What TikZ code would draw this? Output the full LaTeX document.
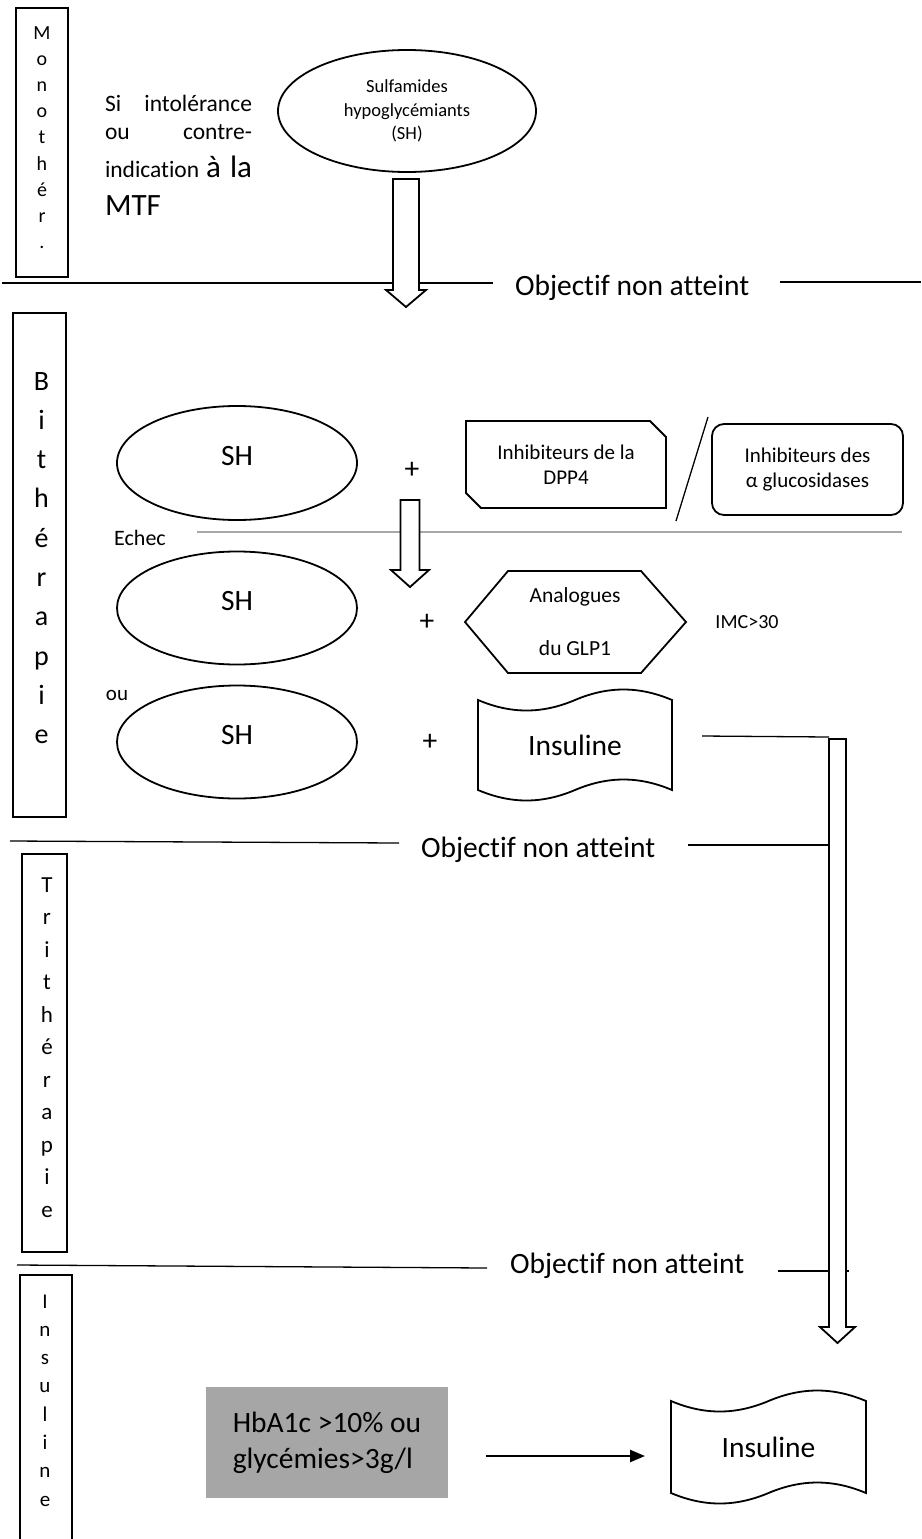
\documentclass[tikz,border=0pt]{standalone}
\usepackage{fontspec}
\setmainfont{Carlito}[Ligatures=NoCommon]
\usetikzlibrary{shapes.geometric,arrows.meta}
\definecolor{boxgray}{HTML}{A6A6A6}
\definecolor{linegray}{HTML}{A8A8A8}
\tikzset{
  every node/.style={inner sep=0pt, outer sep=0pt},
  lblbox/.style={draw, line width=2.2pt},
  shapeline/.style={draw, line width=1.8pt},
  sepline/.style={line width=1.3pt},
  blk/.style={draw, line width=1.8pt, fill=white, line join=miter},
  bigtxt/.style={font=\fontsize{29.5}{35}\selectfont},
  smalltxt/.style={font=\fontsize{21}{25}\selectfont},
}
% block arrow: cx, ytop, yhead, ytip, shaft half width, head half width
\newcommand\blockarr[6]{%
  \draw[blk] ({#1-#5},#2) -- ({#1+#5},#2) -- ({#1+#5},#3) -- ({#1+#6},#3) -- (#1,#4) -- ({#1-#6},#3) -- ({#1-#5},#3) -- cycle;}
% punched tape: x0, ytop, width, ybottom
\newcommand\tapeshape[4]{%
  \draw[shapeline] (#1,#2) .. controls ({#1+0.17*#3},{#2+14}) and ({#1+0.33*#3},{#2+14}) .. ({#1+0.5*#3},#2)
    .. controls ({#1+0.67*#3},{#2-14}) and ({#1+0.83*#3},{#2-14}) .. ({#1+#3},#2)
    -- ({#1+#3},#4)
    .. controls ({#1+0.83*#3},{#4-14}) and ({#1+0.67*#3},{#4-14}) .. ({#1+0.5*#3},#4)
    .. controls ({#1+0.33*#3},{#4+14}) and ({#1+0.17*#3},{#4+14}) .. (#1,#4) -- cycle;}
\begin{document}
\begin{tikzpicture}[x=1pt,y=-1pt]
\useasboundingbox (0,0) rectangle (921,1539);

% ---------- section label boxes ----------
\node[lblbox, minimum width=52pt, minimum height=269pt] (monobox) at (42,142.5) {};
\foreach \c [count=\i] in {M,o,n,o,t,h,é,r,.}
  \node[anchor=base, font=\fontsize{20}{24}\selectfont] (mono\i) at (42,{39+26.2*(\i-1)}) {\c};

\node[lblbox, minimum width=53pt, minimum height=504pt] (bibox) at (39.5,565) {};
\foreach \c [count=\i] in {B,i,t,h,é,r,a,p,i,e}
  \node[anchor=base, font=\fontsize{28}{32}\selectfont] (bi\i) at (41.5,{390+39.3*(\i-1)}) {\c};

\node[lblbox, minimum width=45pt, minimum height=398pt] (tribox) at (44.5,1053) {};
\foreach \c [count=\i] in {T,r,i,t,h,é,r,a,p,i,e}
  \node[anchor=base, font=\fontsize{23}{27}\selectfont] (tri\i) at (47,{892+32.5*(\i-1)}) {\c};

\node[lblbox, minimum width=52pt, minimum height=300pt] (insbox) at (46,1425) {};
\foreach \c [count=\i] in {I,n,s,u,l,i,n,e}
  \node[anchor=base, font=\fontsize{21}{25}\selectfont] (insl\i) at (45,{1308+28.3*(\i-1)}) {\c};

% ---------- separator lines ----------
\coordinate (l1a) at (2,283);   \coordinate (l1b) at (493,283);
\coordinate (l1c) at (780,282); \coordinate (l1d) at (921,282);
\coordinate (l2a) at (10,841);  \coordinate (l2b) at (399,843);
\coordinate (l2c) at (688,845); \coordinate (l2d) at (847,845);
\coordinate (l3a) at (17,1265); \coordinate (l3b) at (487,1268);
\coordinate (l3c) at (778,1271);\coordinate (l3d) at (849,1271);
\coordinate (gla) at (197,532); \coordinate (glb) at (902,532);
\draw[sepline] (l1a) -- (l1b);
\draw[sepline] (l1c) -- (l1d);
\draw[sepline] (l2a) -- (l2b);
\draw[sepline] (l2c) -- (l2d);
\draw[sepline] (l3a) -- (l3b);
\draw[sepline] (l3c) -- (l3d);
\draw[line width=2pt, linegray] (gla) -- (glb);

\node[bigtxt, anchor=base west] (obj1) at (515,295) {Objectif non atteint};
\node[bigtxt, anchor=base west] (obj2) at (421,857) {Objectif non atteint};
\node[bigtxt, anchor=base west] (obj3) at (510,1273) {Objectif non atteint};

% ---------- monotherapie ----------
\node[anchor=base west, font=\fontsize{23.5}{28}\selectfont] (si1) at (105,111) {\makebox[147pt]{Si\hfill intolérance}};
\node[anchor=base west, font=\fontsize{23.5}{28}\selectfont] (si2) at (105,139) {\makebox[147pt]{ou\hfill contre-}};
\node[anchor=base west, font=\fontsize{23.5}{28}\selectfont] (si3) at (105,177) {\makebox[147pt][s]{indication {\fontsize{31}{36}\selectfont à la}}};
\node[anchor=base west, font=\fontsize{31}{36}\selectfont] (si4) at (105,215) {MTF};

\node[ellipse, shapeline, minimum width=258pt, minimum height=122pt, align=center,
      font=\fontsize{18.5}{23.5}\selectfont] (sulf) at (407,111) {Sulfamides\\hypoglycémiants\\(SH)};

% ---------- bitherapie ----------
\node[ellipse, shapeline, minimum width=240pt, minimum height=114pt, bigtxt, text height=19pt, text depth=15pt] (sh1) at (237,463) {SH};
\node[ellipse, shapeline, minimum width=240pt, minimum height=113pt, bigtxt, text height=19pt, text depth=15pt] (sh2) at (237,608) {SH};
\node[ellipse, shapeline, minimum width=240pt, minimum height=113pt, bigtxt, text height=19pt, text depth=15pt] (sh3) at (237,742) {SH};

\node[bigtxt] (plus1) at (412,470) {+};
\node[bigtxt] (plus2) at (427,622) {+};
\node[bigtxt] (plus3) at (430,742) {+};

\node[font=\fontsize{22}{26}\selectfont] (echec) at (140,538) {Echec};
\node[smalltxt] (ou) at (117,695) {ou};

% DPP4 box (snipped corners)
\node[smalltxt, align=center] (dpp) at (566,465) {Inhibiteurs de la\\DPP4};
\draw[shapeline, line join=miter] (466,421) -- (650,421) -- (666,437) -- (666,508) -- (481,508) -- (466,493) -- cycle;

\coordinate (sla) at (708,417); \coordinate (slb) at (676,521);
\draw[line width=1.3pt] (sla) -- (slb);

\node[shapeline, rounded corners=12pt, minimum width=191pt, minimum height=91pt, align=center, smalltxt] (agi) at (807.5,469.5) {Inhibiteurs des\\α glucosidases};

% GLP1 hexagon
\node[align=center, font=\fontsize{21.5}{53}\selectfont] (glp) at (575,621.5) {Analogues\\du GLP1};
\draw[shapeline, line join=miter] (465,622) -- (508,571) -- (641,571) -- (686,622) -- (641,673) -- (508,673) -- cycle;

\node[font=\fontsize{20}{24}\selectfont] (imc) at (747,622) {IMC>30};

% Insuline tape 1
\tapeshape{478}{700}{194}{790}
\node[bigtxt] (ins1) at (575,745) {Insuline};

% ---------- block arrows ----------
\blockarr{406}{179}{290}{307}{13}{20}
\blockarr{410}{500}{570}{587}{9.5}{19}
\blockarr{837.5}{739}{1327}{1343}{8.5}{17.5}

\coordinate (c1) at (702,736); \coordinate (a3top) at (829,737);
\draw[sepline] (c1) -- (a3top);

% ---------- insuline section ----------
\node[fill=boxgray, minimum width=242pt, minimum height=111pt, align=left,
      font=\fontsize{29.5}{36}\selectfont] (hba) at (327,1442.5) {HbA1c >10\% ou\\glycémies>3g/l};

\tapeshape{671}{1401}{195}{1493}
\node[bigtxt] (ins2) at (768.5,1447) {Insuline};

\coordinate (a4s) at (486,1456); \coordinate (a4e) at (645,1456);
\draw[line width=2.5pt, -{Triangle[length=15pt,width=12pt]}] (a4s) -- (a4e);

\end{tikzpicture}
\end{document}
